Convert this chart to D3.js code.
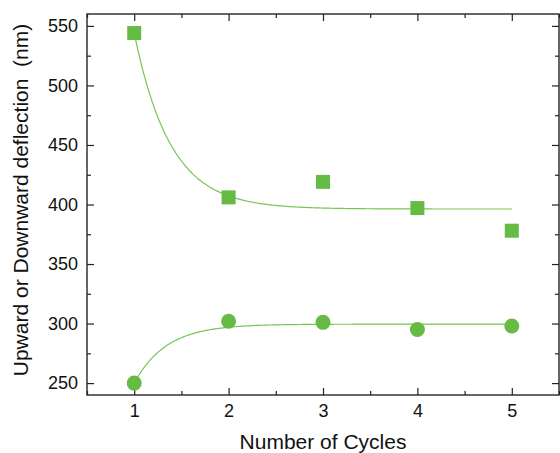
<!DOCTYPE html>
<html><head><meta charset="utf-8">
<script src="https://cdn.jsdelivr.net/npm/d3@7"></script>
<style>body{margin:0;background:#fff}svg{display:block}text{font-family:"Liberation Sans",Arial,sans-serif;fill:#111}</style>
</head><body><svg id="c" width="560" height="453"></svg>
<script>
const cycles = [1, 2, 3, 4, 5];
const squareVals = [544, 406, 419, 397, 378];
const circleVals = [250, 302, 301, 295, 298];
// exponential fit parameters (y0, A, t)
const squareFit = [396.2, 147.8, 0.385];
const circleFit = [299.5, -49.5, 0.34];
const xTicks = [1, 2, 3, 4, 5];
const yTicks = [250, 300, 350, 400, 450, 500, 550];

const svg = d3.select("#c");
const L = 87, R = 559, T = 14, B = 395;
const x = d3.scaleLinear().domain([0.5, 5.5]).range([L, R]);
const y = d3.scaleLinear().domain([240, 560]).range([B, T]);
const green = "#66bb44", lineGreen = "#77c655";

svg.append("rect").attr("x", L).attr("y", T).attr("width", R - L).attr("height", B - T)
  .attr("fill", "none").attr("stroke", "#333").attr("stroke-width", 1.5);

const xMinor = d3.range(0.5, 5.51, 0.5).filter(v => !xTicks.includes(v));
const yMinor = d3.range(250, 560, 25).filter(v => !yTicks.includes(v));
const gB = svg.append("g").attr("transform", `translate(0,${B})`)
  .call(d3.axisBottom(x).tickValues(xTicks).tickSizeInner(-7).tickSizeOuter(0).tickPadding(9).tickFormat(d3.format("d")));
const gBm = svg.append("g").attr("transform", `translate(0,${B})`)
  .call(d3.axisBottom(x).tickValues(xMinor).tickSizeInner(-4).tickSizeOuter(0).tickFormat(""));
const gT = svg.append("g").attr("transform", `translate(0,${T})`)
  .call(d3.axisTop(x).tickValues(xTicks).tickSizeInner(-7).tickSizeOuter(0).tickFormat(""));
const gTm = svg.append("g").attr("transform", `translate(0,${T})`)
  .call(d3.axisTop(x).tickValues(xMinor).tickSizeInner(-4).tickSizeOuter(0).tickFormat(""));
const gL = svg.append("g").attr("transform", `translate(${L},0)`)
  .call(d3.axisLeft(y).tickValues(yTicks).tickSizeInner(-7).tickSizeOuter(0).tickPadding(9).tickFormat(d3.format("d")));
const gLm = svg.append("g").attr("transform", `translate(${L},0)`)
  .call(d3.axisLeft(y).tickValues(yMinor).tickSizeInner(-4).tickSizeOuter(0).tickFormat(""));
const gR = svg.append("g").attr("transform", `translate(${R},0)`)
  .call(d3.axisRight(y).tickValues(yTicks).tickSizeInner(-7).tickSizeOuter(0).tickFormat(""));
const gRm = svg.append("g").attr("transform", `translate(${R},0)`)
  .call(d3.axisRight(y).tickValues(yMinor).tickSizeInner(-4).tickSizeOuter(0).tickFormat(""));
[gB, gBm, gT, gTm, gL, gLm, gR, gRm].forEach(g => {
  g.select(".domain").remove();
  g.selectAll("line").attr("stroke", "#222").attr("stroke-width", 1.2);
  g.selectAll("text").attr("font-size", 18).attr("font-family", '"Liberation Sans",Arial,sans-serif').attr("fill", "#111");
});

const fitPts = d3.range(1, 5.0001, 0.02);
const line = d3.line().x(d => x(d[0])).y(d => y(d[1]));
[squareFit, circleFit].forEach(p => {
  svg.append("path")
    .attr("d", line(fitPts.map(v => [v, p[0] + p[1] * Math.exp(-(v - 1) / p[2])])))
    .attr("fill", "none").attr("stroke", lineGreen).attr("stroke-width", 1.2);
});

svg.append("g").selectAll("rect").data(cycles).join("rect")
  .attr("x", d => x(d) - 7).attr("y", (d, i) => y(squareVals[i]) - 7)
  .attr("width", 14).attr("height", 14).attr("fill", green);
svg.append("g").selectAll("circle").data(cycles).join("circle")
  .attr("cx", d => x(d)).attr("cy", (d, i) => y(circleVals[i])).attr("r", 7.5).attr("fill", green);

svg.append("text").attr("x", (L + R) / 2).attr("y", 449).attr("text-anchor", "middle")
  .attr("font-size", 21).text("Number of Cycles");
svg.append("text").attr("transform", `translate(28,200) rotate(-90)`).attr("text-anchor", "middle")
  .attr("font-size", 21).style("white-space", "pre").text("Upward or Downward deflection  (nm)");
</script></body></html>
